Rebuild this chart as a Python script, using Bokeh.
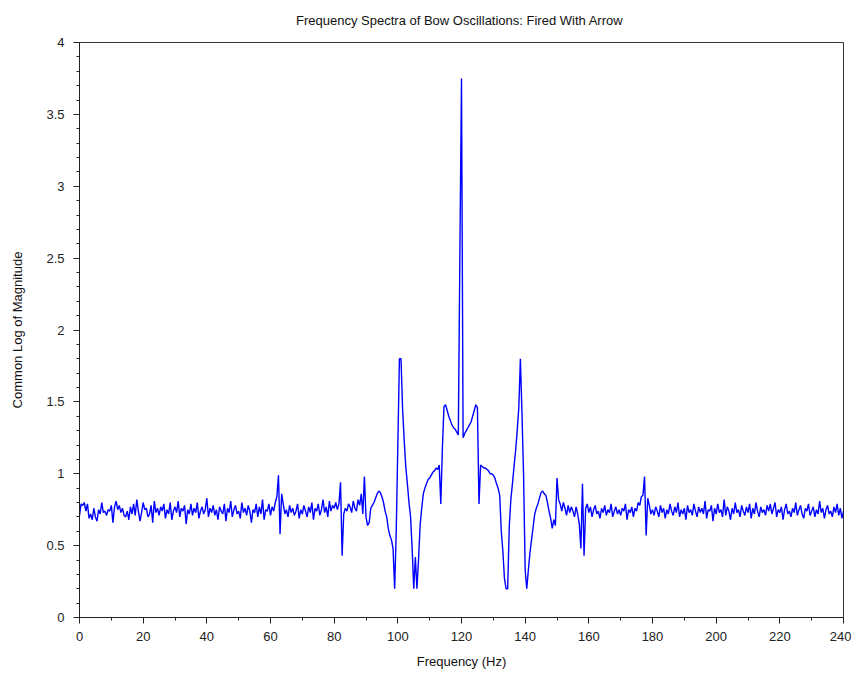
from bokeh.plotting import figure
from bokeh.models import Range1d, FixedTicker
from bokeh.embed import file_html
from bokeh.resources import INLINE

freq_step = 0.5  # Hz between spectrum bins, starting at 0 Hz

y_0_60 = [
    0.71, 0.79, 0.78, 0.80, 0.74, 0.79, 0.69, 0.72, 0.68, 0.76,
    0.70, 0.67, 0.75, 0.72, 0.80, 0.73, 0.74, 0.71, 0.75, 0.74,
    0.78, 0.66, 0.77, 0.81, 0.75, 0.78, 0.73, 0.76, 0.71, 0.70,
    0.74, 0.68, 0.77, 0.72, 0.79, 0.71, 0.82, 0.74, 0.67, 0.73,
    0.80, 0.75, 0.76, 0.70, 0.72, 0.78, 0.66, 0.81, 0.73, 0.76,
    0.71, 0.77, 0.74, 0.79, 0.69, 0.75, 0.72, 0.80, 0.68, 0.74,
    0.77, 0.73, 0.81, 0.70, 0.76, 0.74, 0.78, 0.65, 0.75, 0.72,
    0.79, 0.71, 0.76, 0.73, 0.80, 0.69, 0.74, 0.77, 0.72, 0.75,
    0.83, 0.70, 0.76, 0.73, 0.78, 0.71, 0.75, 0.68, 0.77, 0.74,
    0.72, 0.79, 0.67, 0.76, 0.73, 0.81, 0.70, 0.75, 0.78, 0.72,
    0.74, 0.69, 0.80, 0.73, 0.76, 0.71, 0.78, 0.74, 0.66, 0.75,
    0.73, 0.79, 0.70, 0.77, 0.72, 0.82, 0.68, 0.75, 0.74, 0.79,
]
y_60_80 = [
    0.71, 0.77, 0.74, 0.80, 0.84, 0.99, 0.58, 0.86, 0.79, 0.72,
    0.75, 0.70, 0.78, 0.73, 0.76, 0.71, 0.74, 0.79, 0.69, 0.75,
    0.72, 0.78, 0.74, 0.70, 0.77, 0.73, 0.80, 0.68, 0.76, 0.74,
    0.79, 0.71, 0.75, 0.82, 0.73, 0.77, 0.70, 0.81, 0.74, 0.78,
]
y_80_100 = [
    0.76, 0.80, 0.75, 0.79, 0.94, 0.43, 0.72, 0.76, 0.74, 0.79,
    0.77, 0.73, 0.81, 0.76, 0.74, 0.82, 0.78, 0.86, 0.72, 0.98,
    0.70, 0.64, 0.66, 0.76, 0.78, 0.80, 0.83, 0.86, 0.88, 0.87,
    0.84, 0.80, 0.74, 0.70, 0.62, 0.57, 0.54, 0.48, 0.20, 0.60,
]
y_100_120 = [
    1.20, 1.80, 1.80, 1.45, 1.23, 1.05, 0.93, 0.80, 0.70, 0.48,
    0.20, 0.42, 0.20, 0.40, 0.64, 0.76, 0.86, 0.90, 0.93, 0.96,
    0.97, 0.99, 1.01, 1.02, 1.04, 1.03, 1.06, 0.79, 1.18, 1.47,
    1.48, 1.44, 1.40, 1.37, 1.34, 1.32, 1.31, 1.29, 1.27, 2.55,
]
y_120_140 = [
    3.75, 1.25, 1.28, 1.30, 1.32, 1.34, 1.36, 1.40, 1.44, 1.48,
    1.46, 0.79, 1.06, 1.05, 1.04, 1.04, 1.03, 1.02, 1.00, 1.00,
    0.99, 0.97, 0.93, 0.90, 0.85, 0.60, 0.46, 0.27, 0.20, 0.20,
    0.63, 0.82, 0.93, 1.05, 1.16, 1.30, 1.46, 1.80, 1.42, 0.99,
]
y_140_160 = [
    0.33, 0.20, 0.33, 0.45, 0.54, 0.63, 0.72, 0.76, 0.79, 0.83,
    0.87, 0.88, 0.86, 0.85, 0.80, 0.74, 0.69, 0.62, 0.68, 0.64,
    0.97, 0.82, 0.79, 0.74, 0.80, 0.76, 0.71, 0.78, 0.73, 0.77,
    0.74, 0.70, 0.77, 0.72, 0.65, 0.48, 0.93, 0.43, 0.76, 0.79,
]
y_160_180 = [
    0.73, 0.77, 0.70, 0.75, 0.78, 0.72, 0.74, 0.69, 0.76, 0.73,
    0.78, 0.71, 0.75, 0.73, 0.79, 0.70, 0.74, 0.77, 0.72, 0.75,
    0.71, 0.76, 0.74, 0.79, 0.68, 0.75, 0.73, 0.77, 0.70, 0.76,
    0.74, 0.80, 0.78, 0.84, 0.85, 0.98, 0.57, 0.83, 0.78, 0.72,
]
y_180_240 = [
    0.75, 0.71, 0.77, 0.74, 0.70, 0.78, 0.73, 0.76, 0.69, 0.75,
    0.72, 0.79, 0.74, 0.71, 0.77, 0.73, 0.80, 0.70, 0.75, 0.72,
    0.76, 0.68, 0.78, 0.73, 0.75, 0.71, 0.79, 0.74, 0.70, 0.77,
    0.73, 0.76, 0.72, 0.81, 0.69, 0.75, 0.74, 0.78, 0.67, 0.76,
    0.72, 0.79, 0.73, 0.75, 0.70, 0.82, 0.71, 0.77, 0.74, 0.68,
    0.76, 0.72, 0.80, 0.73, 0.75, 0.70, 0.78, 0.74, 0.71, 0.77,
    0.73, 0.79, 0.69, 0.76, 0.72, 0.80, 0.74, 0.70, 0.77, 0.73,
    0.75, 0.71, 0.78, 0.74, 0.79, 0.72, 0.76, 0.80, 0.70, 0.75,
    0.73, 0.77, 0.68, 0.75, 0.79, 0.72, 0.74, 0.70, 0.76, 0.73,
    0.80, 0.71, 0.75, 0.78, 0.72, 0.69, 0.76, 0.74, 0.79, 0.71,
    0.74, 0.77, 0.70, 0.75, 0.72, 0.81, 0.73, 0.76, 0.69, 0.75,
    0.78, 0.72, 0.74, 0.70, 0.77, 0.73, 0.79, 0.71, 0.76, 0.69,
    0.74,
]

x_ticks = [0, 20, 40, 60, 80, 100, 120, 140, 160, 180, 200, 220, 240]
x_labels = ["0", "20", "40", "60", "80", "100", "120", "140", "160", "180", "200", "220", "240"]
y_ticks = [0, 0.5, 1, 1.5, 2, 2.5, 3, 3.5, 4]
y_labels = ["0", "0.5", "1", "1.5", "2", "2.5", "3", "3.5", "4"]

title_text = "Frequency Spectra of Bow Oscillations:  Fired With Arrow"
x_title = "Frequency (Hz)"
y_title = "Common Log of Magnitude"

magnitude = (y_0_60 + y_60_80 + y_80_100 + y_100_120 + y_120_140
             + y_140_160 + y_160_180 + y_180_240)
freq = [i * freq_step for i in range(len(magnitude))]

narrow = "Liberation Sans Narrow, Arial Narrow, Liberation Sans"

p = figure(frame_width=764, frame_height=575,
           min_border_left=79, min_border_right=8, min_border_top=42, min_border_bottom=54,
           x_range=Range1d(0, 240), y_range=Range1d(0, 4),
           output_backend="svg", toolbar_location=None,
           title=title_text)
p.title.align = "center"
p.title.vertical_align = "top"
p.title.text_font = narrow
p.title.text_font_size = "13px"
p.title.text_font_style = "normal"
p.title.text_color = "#111111"
p.title.standoff = 25

p.line(freq, magnitude, line_color="#0000ff", line_width=1.4)

p.xgrid.visible = False
p.ygrid.visible = False
p.outline_line_color = "#333333"
p.outline_line_width = 1
p.background_fill_color = "white"
p.border_fill_color = "white"

p.xaxis.ticker = FixedTicker(ticks=x_ticks, minor_ticks=list(range(0, 241, 10)))
p.yaxis.ticker = FixedTicker(ticks=y_ticks, minor_ticks=[i / 10 for i in range(0, 41)])
p.xaxis.major_label_overrides = {t: l for t, l in zip(x_ticks, x_labels)}
p.yaxis.major_label_overrides = {t: l for t, l in zip(y_ticks, y_labels)}

for ax in (p.xaxis[0], p.yaxis[0]):
    ax.axis_line_color = "#222222"
    ax.major_tick_line_color = "#222222"
    ax.minor_tick_line_color = "#222222"
    ax.major_tick_out = 6
    ax.major_tick_in = 0
    ax.minor_tick_out = 3
    ax.minor_tick_in = 0
    ax.major_label_text_font = "Liberation Sans"
    ax.major_label_text_font_size = "13px"
    ax.major_label_text_color = "#222222"
    ax.axis_label_text_font = narrow
    ax.axis_label_text_font_size = "13px"
    ax.axis_label_text_font_style = "normal"
    ax.axis_label_text_color = "#111111"

p.xaxis.axis_label = x_title
p.yaxis.axis_label = y_title
p.xaxis.major_label_standoff = 8
p.yaxis.major_label_standoff = 9
p.xaxis.axis_label_standoff = 10
p.yaxis.axis_label_standoff = 18

open("out.html", "w").write(file_html(p, INLINE))
